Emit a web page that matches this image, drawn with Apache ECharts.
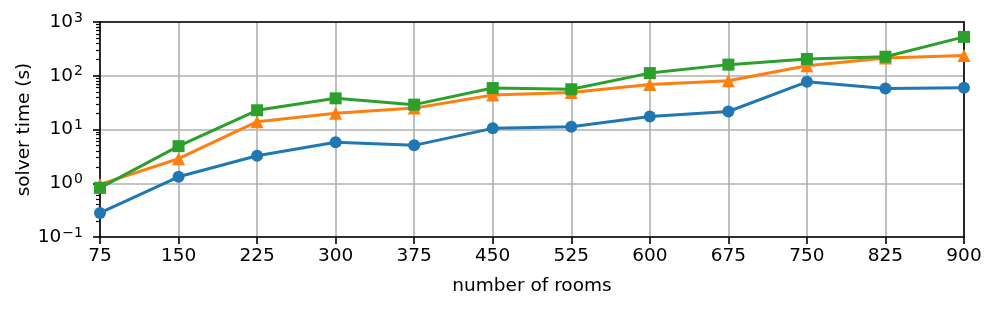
<!DOCTYPE html>
<html><head><meta charset="utf-8">
<script src="https://cdn.jsdelivr.net/npm/echarts@6/dist/echarts.min.js"></script>
<style>html,body{margin:0;padding:0;background:#fff}#c{width:997px;height:310px}</style>
</head><body><div id="c"></div>
<script>
const rooms = [75,150,225,300,375,450,525,600,675,750,825,900];
const seriesA = [0.28,1.32,3.25,5.8,5.07,10.5,11.3,17.4,21.6,77,58,60];
const seriesB = [0.95,2.86,14,20,25,44,49,69,81,154,214,237];
const seriesC = [0.82,4.9,22.8,38,29,59,56,112,161,205,226,528];
const minorTicks = [];
[0.1,1,10,100].forEach(d=>{for(let k=2;k<=9;k++) minorTicks.push(+(d*k).toPrecision(3));});

const font = 'DejaVu Sans';
const fs = 18.5;
function pairs(v){return rooms.map((x,i)=>[x,v[i]]);}
function mk(name,data,color,symbol,size){
  return {name,type:'line',data:pairs(data),symbol,symbolSize:size,
    lineStyle:{color,width:3},itemStyle:{color},showSymbol:true,animation:false,clip:true};
}
const frameAxis = {axisLine:{show:true,onZero:false,lineStyle:{color:'#000',width:1.6}},
  axisTick:{show:false},axisLabel:{show:false},splitLine:{show:false}};
const chart = echarts.init(document.getElementById('c'),null,{renderer:'canvas'});
chart.setOption({
  animation:false,
  grid:{left:100,right:33,top:22,bottom:73,show:false},
  xAxis:[{type:'value',min:75,max:900,interval:75,
    name:'number of rooms',nameLocation:'middle',nameGap:40,
    nameTextStyle:{fontFamily:font,fontSize:fs,color:'#000'},
    axisLine:{show:true,onZero:false,lineStyle:{color:'#000',width:1.6}},
    axisTick:{show:true,length:7,lineStyle:{color:'#000',width:1.6}},
    axisLabel:{fontFamily:font,fontSize:fs,color:'#000',margin:10},
    splitLine:{show:true,lineStyle:{color:'#b0b0b0',width:1.6}}},
   Object.assign({type:'value',min:75,max:900,interval:75,position:'top'},frameAxis)],
  yAxis:[{type:'log',logBase:10,min:0.1,max:1000,
    name:'solver time (s)',nameLocation:'middle',nameGap:66,nameRotate:90,nameMoveOverlap:false,
    nameTextStyle:{fontFamily:font,fontSize:fs,color:'#000'},
    axisLine:{show:true,onZero:false,lineStyle:{color:'#000',width:1.6}},
    axisTick:{show:true,length:7,lineStyle:{color:'#000',width:1.6}},
    axisLabel:{margin:17,formatter:function(v){
        const e=Math.round(Math.log10(v));
        return '{b|10}{s|'+(e<0?'\u2212'+(-e):e)+'}';},
      rich:{b:{fontFamily:font,fontSize:fs,color:'#000',lineHeight:22},
            s:{fontFamily:font,fontSize:14,color:'#000',verticalAlign:'top',lineHeight:20,padding:[0,0,0,1]}}},
    splitLine:{show:true,lineStyle:{color:'#b0b0b0',width:1.6}}},
   {type:'log',logBase:10,min:0.1,max:1000,position:'left',
    axisLine:{show:false},axisLabel:{show:false},splitLine:{show:false},
    axisTick:{show:true,length:4,customValues:minorTicks,lineStyle:{color:'#000',width:1.2}}},
   Object.assign({type:'log',logBase:10,min:0.1,max:1000,position:'right'},frameAxis)],
  series:[mk('A',seriesA,'#1f77b4','circle',12),
          mk('B',seriesB,'#ff7f0e','triangle',13),
          mk('C',seriesC,'#2ca02c','rect',12)]
});
</script></body></html>
